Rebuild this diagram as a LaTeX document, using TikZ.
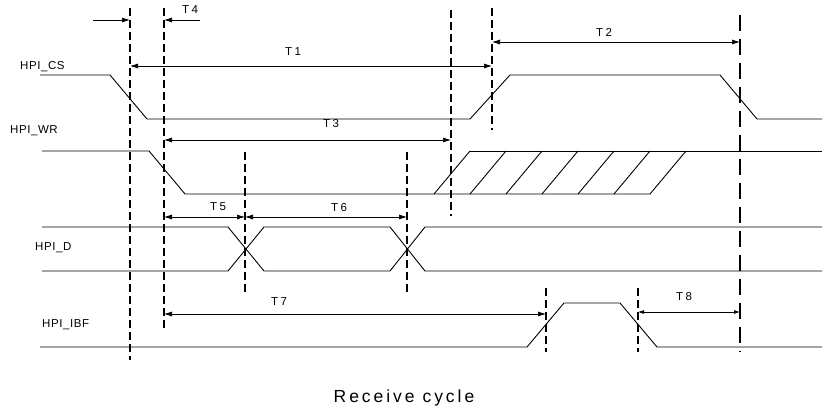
\documentclass[tikz,border=0pt]{standalone}
\usepackage{fontspec}
\setmainfont{Liberation Sans}
\newfontfamily\sigfont[LetterSpace=5]{Liberation Sans}
\newfontfamily\tfont[LetterSpace=22]{Liberation Sans}
\newfontfamily\capfont[LetterSpace=17]{Liberation Sans}
\usetikzlibrary{arrows, arrows.meta, positioning}

\tikzset{
  sig/.style={line width=0.9pt},
  guide/.style={line width=1.2pt, dash pattern=on 8pt off 4pt},
  longguide/.style={line width=1.4pt, dash pattern=on 16pt off 8pt},
  dim/.style={line width=0.7pt, {Latex[length=8pt,width=5pt]}-{Latex[length=8pt,width=5pt]}},
  lbl/.style={font=\sigfont\fontsize{11.5}{13}\selectfont, inner sep=0pt},
  tlbl/.style={font=\tfont\fontsize{11.5}{13}\selectfont, inner sep=0pt},
}

\begin{document}
\begin{tikzpicture}[x=1pt, y=-1pt]
  \useasboundingbox (0,0) rectangle (823,411);

  % signal names
  \node[lbl, anchor=west] (cs) at (20,67) {HPI\_CS};
  \node[lbl, anchor=west] (wr) at (10,131) {HPI\_WR};
  \node[lbl, anchor=west] (dd) at (35,248) {HPI\_D};
  \node[lbl, anchor=west] (ibf) at (42,325) {HPI\_IBF};

  % waveforms
  \draw[sig] (40,75) -- (110,75) -- (147,119) -- (470,119) -- (510,75) -- (720,75) -- (757,119) -- (822,119);
  \draw[sig] (42,151) -- (149,151) -- (185,194) -- (650,194);
  \draw[sig] (470,151) -- (822,151);
  \foreach \x in {434,470,...,650}
    \draw[sig] (\x,194) -- ++(36,-43);
  \draw[sig] (42,227) -- (228,227) -- (264,271) -- (390,271) -- (425,227) -- (822,227);
  \draw[sig] (42,271) -- (228,271) -- (264,227) -- (390,227) -- (425,271) -- (822,271);
  \draw[sig] (40,347) -- (527,347) -- (564,303) -- (620,303) -- (657,347) -- (822,347);

  % timing marks
  \coordinate (d1t) at (130,8);   \coordinate (d1b) at (130,360);
  \coordinate (d2t) at (164,8);   \coordinate (d2b) at (164,330);
  \coordinate (d3t) at (451,10);  \coordinate (d3b) at (451,216);
  \coordinate (d4t) at (492,8);   \coordinate (d4b) at (492,130);
  \coordinate (d5t) at (740,15);  \coordinate (d5b) at (740,352);
  \coordinate (d6t) at (245,152); \coordinate (d6b) at (245,293);
  \coordinate (d7t) at (407,152); \coordinate (d7b) at (407,293);
  \coordinate (d8t) at (546,288); \coordinate (d8b) at (546,352);
  \coordinate (d9t) at (638,288); \coordinate (d9b) at (638,352);
  \foreach \n in {1,2,3,4,6,7,8,9}
    \draw[guide] (d\n t) -- (d\n b);
  \draw[longguide] (d5t) -- (d5b);

  % intervals
  \coordinate (inl) at (93,20);
  \coordinate (inr) at (200,20);
  \draw[line width=0.7pt, -{Latex[length=8pt,width=5pt]}] (inl) -- (d1t |- inl);
  \draw[line width=0.7pt, -{Latex[length=8pt,width=5pt]}] (inr) -- (d2t |- inr);
  \node[tlbl] (t4) at (190,10) {T4};

  \draw[dim] (d1t |- 0,66) -- (d4t |- 0,66);
  \node[tlbl] (t1) at (293,52) {T1};
  \draw[dim] (d4t |- 0,42) -- (d5t |- 0,42);
  \node[tlbl] (t2) at (604,32) {T2};
  \draw[dim] (d2t |- 0,140) -- (d3t |- 0,140);
  \node[tlbl] (t3) at (331,124) {T3};
  \draw[dim] (d2t |- 0,217) -- (d6t |- 0,217);
  \node[tlbl] (t5) at (218,207) {T5};
  \draw[dim] (d6t |- 0,217) -- (d7t |- 0,217);
  \node[tlbl] (t6) at (339,208) {T6};
  \draw[dim] (d2t |- 0,314) -- (d8t |- 0,314);
  \node[tlbl] (t7) at (279,302) {T7};
  \draw[line width=0.7pt, {Latex[length=6pt,width=4pt]}-{Latex[length=6pt,width=4pt]}] (d9t |- 0,312) -- (d5t |- 0,312);
  \node[tlbl] (t8) at (684,297) {T8};

  % caption
  \node[font=\capfont\fontsize{17.5}{19}\selectfont, inner sep=0pt] (cap) at (404,398) {Receive cycle};
\end{tikzpicture}
\end{document}
